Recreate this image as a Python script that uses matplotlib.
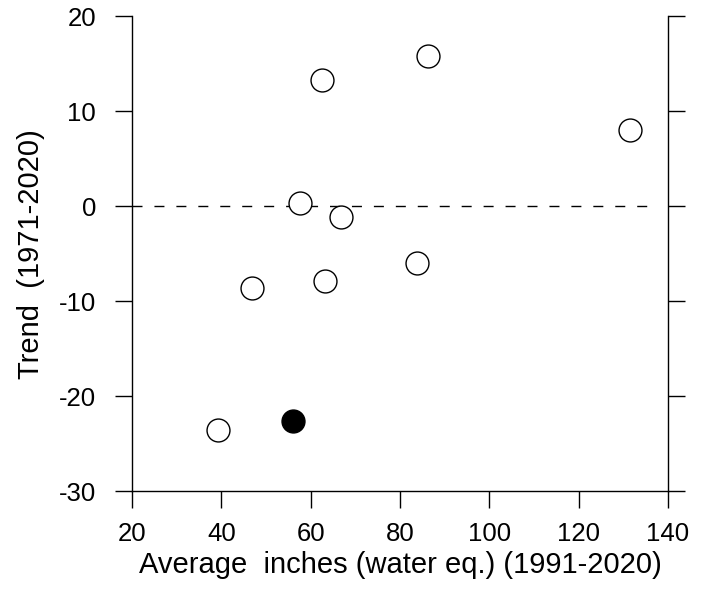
import matplotlib
matplotlib.use("Agg")
import matplotlib.pyplot as plt

plt.rcParams['font.family'] = ['Liberation Sans', 'DejaVu Sans']
plt.rcParams['lines.scale_dashes'] = False
plt.rcParams['axes.unicode_minus'] = False

# Data
avg_inches = [62.6, 86.2, 131.5, 57.6, 66.7, 83.7, 63.3, 46.8, 39.2]
trend = [13.3, 15.8, 8.0, 0.35, -1.15, -6.0, -7.9, -8.6, -23.6]
hl_avg = [56.1]
hl_trend = [-22.6]
xticks = [20, 40, 60, 80, 100, 120, 140]
yticks = [-30, -20, -10, 0, 10, 20]
ref_x = [20, 135.7]
ref_y = [0, 0]

fig = plt.figure(figsize=(7.1, 5.89), dpi=100)
ax = fig.add_axes([132/710, (589-491.3)/589, (668-132)/710, (491.3-16)/589])

ax.plot(ref_x, ref_y, color='black', lw=1.0, dashes=(7.2, 8.6), zorder=1)
ax.plot(avg_inches, trend, 'o', ms=16.5, mfc='white', mec='black', mew=1.0, zorder=3)
ax.plot(hl_avg, hl_trend, 'o', ms=16.5, mfc='black', mec='black', mew=1.0, zorder=3)

ax.set_xlim(20, 140)
ax.set_ylim(-30, 20)
ax.set_xticks(xticks)
ax.set_yticks(yticks)
ax.spines['top'].set_visible(False)
for s in ['left', 'right', 'bottom']:
    ax.spines[s].set_linewidth(1.0)
ax.tick_params(axis='both', direction='out', length=12.5, width=1.0, labelsize=18.5)
ax.tick_params(axis='y', right=True, labelright=False, pad=13.5)
ax.tick_params(axis='x', pad=9.5)

ax.set_xlabel('Average  inches (water eq.) (1991-2020)', fontsize=21, labelpad=4)
ax.set_ylabel('Trend  (1971-2020)', fontsize=21, labelpad=10)

fig.savefig('out.png', dpi=100)
